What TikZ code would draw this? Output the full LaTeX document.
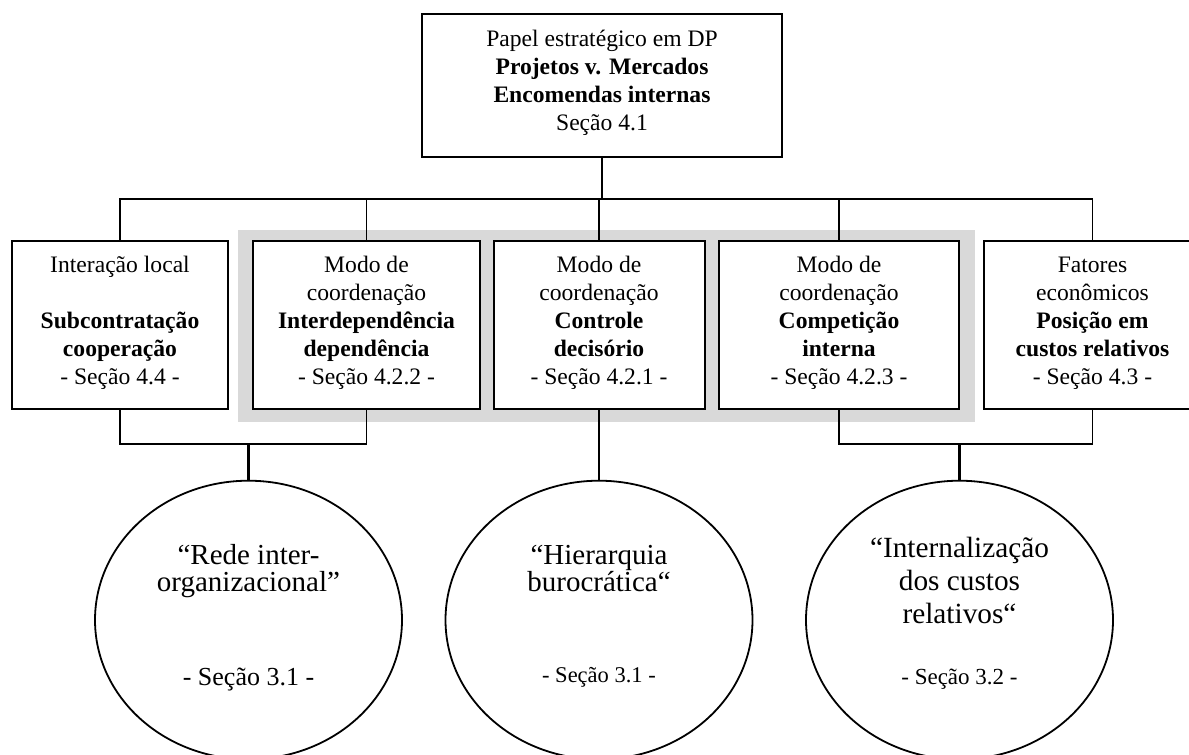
\documentclass[tikz,border=0pt]{standalone}
\usepackage{fontspec}
\setmainfont{Liberation Serif}
\usetikzlibrary{shapes.geometric}
\definecolor{bandgray}{RGB}{217,217,217}

% fixed leading for the oval captions
\newcommand{\tightlines}{\lineskiplimit -50pt\relax}

\tikzset{
  boxnode/.style={draw, line width=2pt, fill=white, inner sep=0pt, align=center,
    minimum height=168.3pt, text height=118.9pt, text depth=0pt,
    font=\fontsize{23.6}{27.9}\selectfont},
  topnode/.style={draw, line width=2pt, fill=white, inner sep=0pt, align=center,
    minimum width=360pt, minimum height=143pt, text height=89pt, text depth=0pt,
    font=\fontsize{23.6}{27.9}\selectfont},
  ovalnode/.style={draw, ellipse, line width=1.8pt, fill=white, inner sep=0pt, align=center,
    minimum width=307pt, minimum height=278.6pt, text depth=0pt},
  band/.style={fill=bandgray, inner sep=0pt},
  conn/.style={line width=1.6pt},
  drop/.style={line width=2.2pt},
}

\begin{document}
\begin{tikzpicture}[x=1pt, y=-1pt]
\useasboundingbox (0,0) rectangle (1189,755);
\clip (0,0) rectangle (1189,755);

% grey band behind the three coordination modes
\node[band, minimum width=737pt, minimum height=192pt] (modes) at (606.5,326) {};

% top node
\node[topnode] (top) at (602,85.5)
  {Papel estratégico em DP\\ \textbf{Projetos v. Mercados}\\ \textbf{Encomendas internas}\\ Seção 4.1};

% second row
\node[boxnode, minimum width=216.5pt] (b1) at (120,324.85)
  {Interação local\\[27.9pt] \textbf{Subcontratação}\\ \textbf{cooperação}\\ - Seção 4.4 -};
\node[boxnode, minimum width=227pt] (b2) at (366.5,324.85)
  {Modo de\\ coordenação\\ \textbf{Interdependência}\\ \textbf{dependência}\\ - Seção 4.2.2 -};
\node[boxnode, minimum width=211pt] (b3) at (599,324.85)
  {Modo de\\ coordenação\\ \textbf{Controle}\\ \textbf{decisório}\\ - Seção 4.2.1 -};
\node[boxnode, minimum width=240pt] (b4) at (839,324.85)
  {Modo de\\ coordenação\\ \textbf{Competição}\\ \textbf{interna}\\ - Seção 4.2.3 -};
\node[boxnode, minimum width=217pt] (b5) at (1092.5,324.85)
  {Fatores\\ econômicos\\ \textbf{Posição em}\\ \textbf{custos relativos}\\ - Seção 4.3 -};

% resulting forms
\node[ovalnode, text height=131.4pt,
      font={\fontsize{29}{27}\selectfont\tightlines}] (c1) at (248.5,620)
  {“Rede inter-\\ organizacional”\\[67.4pt] {\fontsize{26}{26}\selectfont - Seção 3.1 -}};
\node[ovalnode, text height=124.6pt,
      font={\fontsize{29}{27}\selectfont\tightlines}] (c2) at (599,620)
  {“Hierarquia\\ burocrática“\\[63.6pt] {\fontsize{22.5}{22.5}\selectfont - Seção 3.1 -}};
\node[ovalnode, text height=128pt,
      font={\fontsize{29.3}{33.3}\selectfont\tightlines}] (c3) at (959.5,620)
  {“Internalização\\ dos custos\\ relativos“\\[26.8pt] {\fontsize{23}{23}\selectfont - Seção 3.2 -}};

% upper bus
\coordinate (busy) at (0,199);
\draw[drop] (top.south) -- (top.south |- busy);
\draw[conn] (b1.north) -- (b1.north |- busy) -- (b5.north |- busy) -- (b5.north);
\draw[conn] (b2.north) -- (b2.north |- busy);
\draw[conn] (b3.north) -- (b3.north |- busy);
\draw[conn] (b4.north) -- (b4.north |- busy);

% lower buses
\coordinate (lowy) at (0,444);
\draw[conn] (b1.south) -- (b1.south |- lowy) -- (b2.south |- lowy) -- (b2.south);
\draw[drop] (c1.north) -- (c1.north |- lowy);
\draw[conn] (b3.south) -- (c2.north);
\draw[conn] (b4.south) -- (b4.south |- lowy) -- (b5.south |- lowy) -- (b5.south);
\draw[drop] (c3.north) -- (c3.north |- lowy);
\end{tikzpicture}
\end{document}
